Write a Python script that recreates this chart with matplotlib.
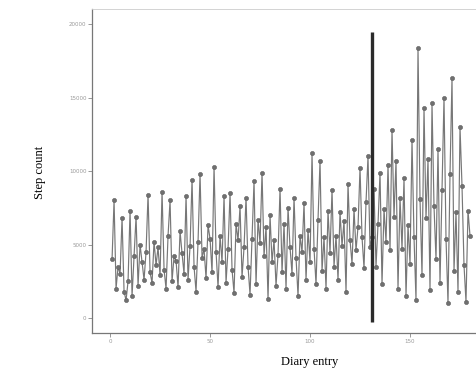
import matplotlib.pyplot as plt

# step counts per diary entry (entries 1..180)
steps = [
    4000, 8000, 2000, 3500, 3000, 6800, 1800, 1200, 2500, 7300,
    1500, 4200, 6900, 2200, 5000, 3800, 2600, 4500, 8400, 3100,
    2400, 5200, 3600, 4800, 2900, 8600, 3300, 2000, 5600, 8000,
    2500, 4200, 3900, 2100, 5900, 4400, 3000, 8300, 2600, 4900,
    9400, 3500, 1800, 5200, 9800, 4100, 4700, 2700, 6300, 5400,
    3100, 10300, 4500, 2100, 5600, 3800, 8300, 2400, 4700, 8500,
    3300, 1700, 6400, 5300, 7600, 2800, 4800, 8200, 3500, 1600,
    5400, 9300, 2300, 6700, 5100, 9900, 4200, 6200, 1300, 7000,
    3800, 5300, 2200, 4300, 8800, 3100, 6400, 2000, 7500, 4800,
    3000, 8200, 4100, 1500, 5600, 4500, 7800, 2600, 6000, 3800,
    11200, 4700, 2300, 6700, 10700, 3200, 5500, 2000, 7300, 4400,
    8700, 3500, 5600, 2600, 7200, 4900, 6600, 1800, 9100, 5300,
    3700, 7400, 4600, 6200, 10200, 5500, 3400, 7900, 11000, 4800,
    5500, 8800, 3500, 6400, 9900, 2300, 7400, 5200, 10400, 4600,
    12800, 6900, 10700, 2000, 8200, 4700, 9500, 1500, 6300, 3700,
    12100, 5500, 1200, 18400, 8100, 2900, 14300, 6800, 10800, 1900,
    14600, 7600, 4000, 11500, 2400, 8700, 15000, 5400, 1000, 9800,
    16300, 3200, 7200, 1800, 13000, 9000, 3600, 1100, 7300, 5600,
]
entries = list(range(1, len(steps) + 1))

phase_change = 131
phase_span = (-270, 19450)

y_ticks = [0, 5000, 10000, 15000, 20000]
x_ticks = [0, 50, 100, 150]

fig = plt.figure(figsize=(4.77, 3.78), dpi=100)
ax = fig.add_axes([0.193, 0.119, 0.807, 0.857])

ax.plot(entries, steps, color='#777777', lw=0.85, marker='o', ms=3,
        mfc='#707070', mec='#5f5f5f', mew=0.4)
ax.vlines(phase_change, *phase_span, color='#2b2b2b', lw=2.4)

ax.set_xlim(-9, 183.5)
ax.set_ylim(-1020, 21020)
ax.set_xticks(x_ticks)
ax.set_yticks(y_ticks)
ax.set_xticklabels([str(t) for t in x_ticks], fontsize=4, color='#999999')
ax.set_yticklabels([str(t) for t in y_ticks], fontsize=4, color='#999999')
ax.tick_params(length=3, width=0.6, color='#888888', pad=1)

for side in ['left', 'bottom']:
    ax.spines[side].set_color('#777777')
    ax.spines[side].set_linewidth(0.9)
ax.spines['top'].set_color('#cccccc')
ax.spines['top'].set_linewidth(0.6)
ax.spines['right'].set_visible(False)

fig.text(0.084, 0.545, 'Step count', rotation=90, ha='center', va='center',
         fontsize=9, family='Liberation Serif')
fig.text(0.65, 0.042, 'Diary entry', ha='center', va='center',
         fontsize=9, family='Liberation Serif')

fig.savefig('out.png', dpi=100)
